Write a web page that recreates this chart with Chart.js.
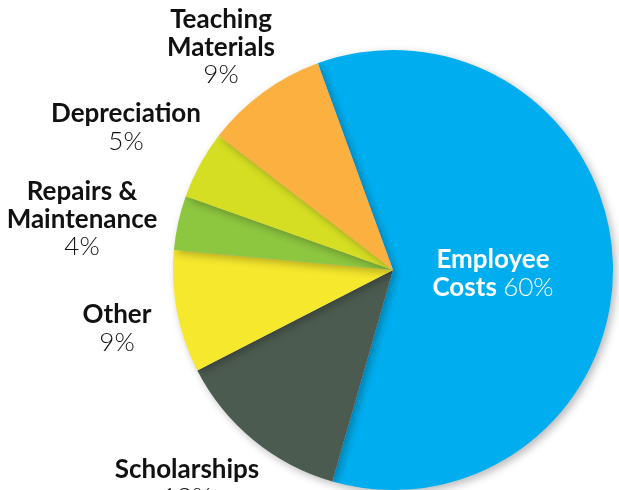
<!DOCTYPE html>
<html>
<head>
<meta charset="utf-8">
<script src="https://cdn.jsdelivr.net/npm/chart.js@4"></script>
<style>
  html, body { margin: 0; padding: 0; background: #fff; }
  #wrap { width: 619px; height: 490px; position: relative; }
</style>
</head>
<body>
<div id="wrap"><canvas id="costChart"></canvas></div>
<script>
// Data
const categories = ["Employee Costs", "Scholarships", "Other", "Repairs & Maintenance", "Depreciation", "Teaching Materials"];
const shares = [60, 13, 9, 4, 5, 9];
const sliceColors = ["#00aeef", "#4c5b50", "#f6e82c", "#8dc63f", "#d5de23", "#fbb040"];

// Label lines (name lines in bold, then the percentage)
const labelLines = [
  ["Employee", "Costs"],
  ["Scholarships"],
  ["Other"],
  ["Repairs &", "Maintenance"],
  ["Depreciation"],
  ["Teaching", "Materials"],
];

// Where each label sits (x center, baseline of first line)
const labelPos = [
  { x: 493, y: 268, color: "#ffffff", inline: true },
  { x: 187, y: 478, color: "#111111" },
  { x: 117, y: 323, color: "#111111" },
  { x: 82, y: 200, color: "#111111" },
  { x: 126, y: 122, color: "#111111" },
  { x: 221, y: 28, color: "#111111" },
];

const boldFont = "bold 26px Lato, 'Open Sans', sans-serif";
const lightFont = "300 26px Lato, 'Open Sans', sans-serif";
const lineGap = 27.5;

// Soft shadow under the slices
const shadowPlugin = {
  id: "sliceShadow",
  beforeDatasetsDraw(chart) {
    const ctx = chart.ctx;
    ctx.save();
    ctx.shadowColor = "rgba(0,0,0,0.28)";
    ctx.shadowBlur = 9;
    ctx.shadowOffsetX = 3;
    ctx.shadowOffsetY = 3;
  },
  afterDatasetsDraw(chart) {
    chart.ctx.restore();
  },
};

// Category labels
const labelPlugin = {
  id: "sliceLabels",
  afterDraw(chart) {
    const ctx = chart.ctx;
    ctx.save();
    ctx.textBaseline = "alphabetic";
    labelLines.forEach((lines, i) => {
      const pos = labelPos[i];
      const pct = shares[i] + "%";
      ctx.fillStyle = pos.color;
      ctx.textAlign = "center";
      ctx.font = boldFont;
      lines.forEach((line, k) => {
        if (pos.inline && k === lines.length - 1) return;
        ctx.fillText(line, pos.x, pos.y + k * lineGap);
      });
      if (pos.inline) {
        // last name line and percentage share one line
        const last = lines[lines.length - 1];
        ctx.font = boldFont;
        const w1 = ctx.measureText(last + " ").width;
        ctx.font = lightFont;
        const w2 = ctx.measureText(pct).width;
        const startX = pos.x - (w1 + w2) / 2;
        const y = pos.y + (lines.length - 1) * lineGap;
        ctx.textAlign = "left";
        ctx.font = boldFont;
        ctx.fillText(last, startX, y);
        ctx.font = lightFont;
        ctx.fillText(pct, startX + w1, y);
      } else {
        ctx.font = lightFont;
        ctx.fillText(pct, pos.x, pos.y + lines.length * lineGap);
      }
    });
    ctx.restore();
  },
};

new Chart(document.getElementById("costChart"), {
  type: "pie",
  data: {
    labels: categories,
    datasets: [
      {
        data: shares,
        backgroundColor: sliceColors,
        borderWidth: 0,
      },
    ],
  },
  options: {
    responsive: true,
    maintainAspectRatio: false,
    animation: false,
    rotation: -20,
    layout: {
      padding: { left: 173, right: 6, top: 50, bottom: 0 },
    },
    plugins: {
      legend: { display: false },
      tooltip: { enabled: false },
    },
  },
  plugins: [shadowPlugin, labelPlugin],
});
</script>
</body>
</html>
